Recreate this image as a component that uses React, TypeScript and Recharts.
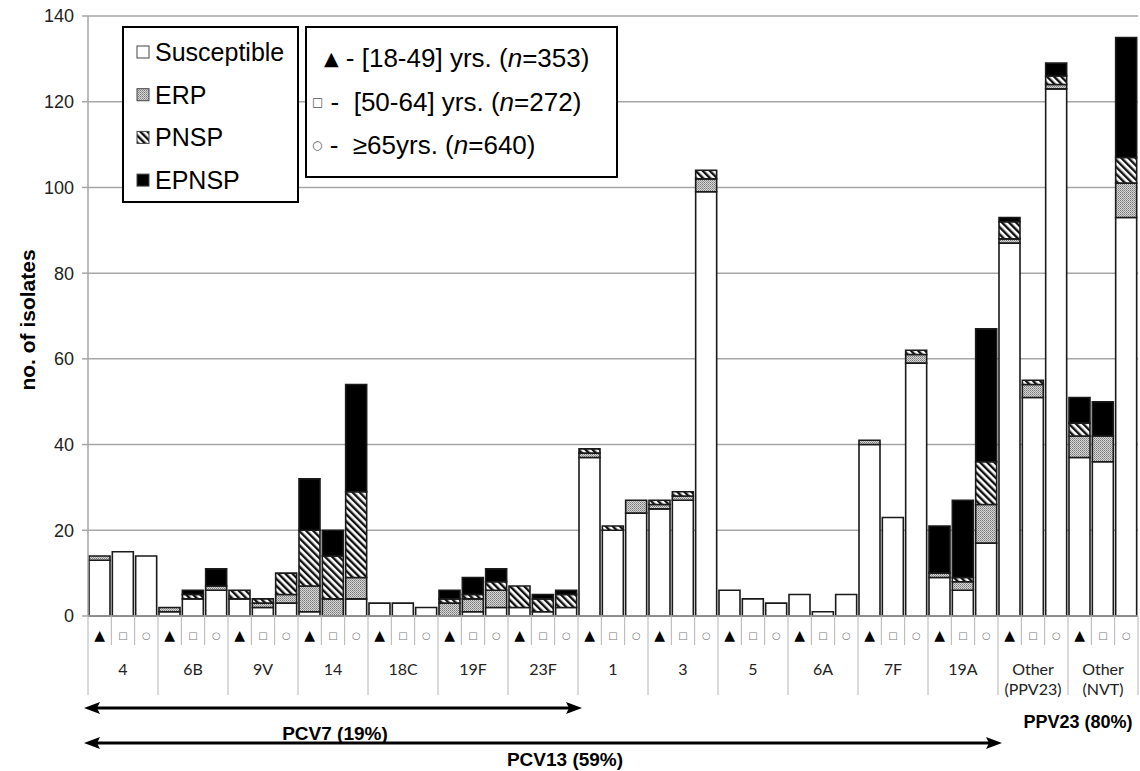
import { Bar, BarChart, CartesianGrid, XAxis, YAxis } from "recharts";

// serotype groups (3 age bars each); "|" splits a label over two lines
const groups = ["4", "6B", "9V", "14", "18C", "19F", "23F", "1", "3", "5", "6A", "7F", "19A", "Other|(PPV23)", "Other|(NVT)"];
const ageMarks = ["▲", "□", "○"];

// isolates per bar: [18-49], [50-64], >=65 for each group
const susceptible = [13, 15, 14, 1, 4, 6, 4, 2, 3, 1, 0, 4, 3, 3, 2, 0, 1, 2, 2, 1, 2, 37, 20, 24, 25, 27, 99, 6, 4, 3, 5, 1, 5, 40, 23, 59, 9, 6, 17, 87, 51, 123, 37, 36, 93];
const erp = [1, 0, 0, 1, 0, 1, 0, 1, 2, 6, 4, 5, 0, 0, 0, 3, 3, 4, 0, 0, 0, 1, 0, 3, 1, 1, 3, 0, 0, 0, 0, 0, 0, 1, 0, 2, 1, 2, 9, 1, 3, 1, 5, 6, 8];
const pnsp = [0, 0, 0, 0, 1, 0, 2, 1, 5, 13, 10, 20, 0, 0, 0, 1, 1, 2, 5, 3, 3, 1, 1, 0, 1, 1, 2, 0, 0, 0, 0, 0, 0, 0, 0, 1, 0, 1, 10, 4, 1, 2, 3, 0, 6];
const epnsp = [0, 0, 0, 0, 1, 4, 0, 0, 0, 12, 6, 25, 0, 0, 0, 2, 4, 3, 0, 1, 1, 0, 0, 0, 0, 0, 0, 0, 0, 0, 0, 0, 0, 0, 0, 0, 11, 18, 31, 1, 0, 3, 6, 8, 28];

const yTicks = [0, 20, 40, 60, 80, 100, 120, 140];
const resistanceLegend = ["Susceptible", "ERP", "PNSP", "EPNSP"];
const ageLegend = [
  { mark: "▲", text: " - [18-49] yrs. (", n: "=353)" },
  { mark: "□", text: " -  [50-64] yrs. (", n: "=272)" },
  { mark: "○", text: " -  ≥65yrs. (", n: "=640)" },
];
const vaccines = [
  { label: "PCV7 (19%)", groups: 7 },
  { label: "PCV13 (59%)", groups: 13 },
];

const rows = susceptible.map((s, i) => ({
  key: `b${i}`,
  susceptible: s,
  erp: erp[i],
  pnsp: pnsp[i],
  epnsp: epnsp[i],
}));

const W = 1140;
const H = 771;
const LEFT = 88;
const TOP = 16;
const BOTTOM = 616;
const PLOT_W = 1050;
const SLOT = PLOT_W / rows.length;
const FONT = "'Liberation Sans', Arial, sans-serif";
const GRID = "#a6a6a6";

function Patterns({ prefix }: { prefix: string }) {
  return (
    <defs>
      <pattern id={`${prefix}-dots`} width="2" height="2" patternUnits="userSpaceOnUse">
        <rect width="2" height="2" fill="#d6d6d6" />
        <rect width="1" height="1" fill="#7a7a7a" />
        <rect x="1" y="1" width="1" height="1" fill="#999" />
      </pattern>
      <pattern id={`${prefix}-hatch`} width="5" height="5" patternUnits="userSpaceOnUse" patternTransform="rotate(-45)">
        <rect width="5" height="5" fill="#fff" />
        <rect width="2.4" height="5" fill="#111" />
      </pattern>
    </defs>
  );
}

function AgeTick(props: any) {
  const { x, index, payload } = props;
  const half = payload?.offset || SLOT / 2;
  const ai = index % 3;
  const label = groups[Math.floor(index / 3)].split("|");
  const left = x - half;
  return (
    <g>
      <line x1={left} x2={left} y1={BOTTOM} y2={BOTTOM + (ai === 0 ? 79 : 29)} stroke="#b4b4b4" />
      {index === rows.length - 1 && (
        <line x1={x + half} x2={x + half} y1={BOTTOM} y2={BOTTOM + 79} stroke="#b4b4b4" />
      )}
      <text
        x={x}
        y={BOTTOM + 19}
        textAnchor="middle"
        dominantBaseline="central"
        fontFamily="'DejaVu Sans', sans-serif"
        fontSize={ai === 0 ? 14 : 10}
        fill={ai === 0 ? "#000" : "#777"}
      >
        {ageMarks[ai]}
      </text>
      {ai === 1 &&
        label.map((t, k) => (
          <text
            key={k}
            x={x}
            y={BOTTOM + 52 + k * 20}
            textAnchor="middle"
            dominantBaseline="central"
            fontFamily="Lato, 'Open Sans', sans-serif"
            fontSize={16}
            fill="#222"
          >
            {t}
          </text>
        ))}
    </g>
  );
}

function Overlay() {
  const fills = ["#fff", "url(#lg-dots)", "url(#lg-hatch)", "#000"];
  return (
    <svg width={W} height={H} style={{ position: "absolute", left: 0, top: 0, pointerEvents: "none" }}>
      <Patterns prefix="lg" />
      <text
        transform="translate(27,320) rotate(-90)"
        textAnchor="middle"
        dominantBaseline="central"
        fontFamily={FONT}
        fontWeight="bold"
        fontSize={21}
      >
        no. of isolates
      </text>

      <rect x={123} y={27} width={175} height={175} fill="#fff" stroke="#000" strokeWidth={2} />
      {resistanceLegend.map((name, i) => (
        <g key={name}>
          <rect x={137} y={46 + i * 42.7} width={12} height={12} fill={fills[i]} stroke="#444" />
          <text x={155} y={52 + i * 42.7} dominantBaseline="central" fontFamily={FONT} fontSize={25}>
            {name}
          </text>
        </g>
      ))}

      <rect x={306} y={27} width={311} height={150} fill="#fff" stroke="#000" strokeWidth={2} />
      {ageLegend.map((a, i) => (
        <text
          key={i}
          x={i === 0 ? 324 : 312}
          y={58 + i * 43.5}
          dominantBaseline="central"
          fontFamily={FONT}
          fontSize={26}
          style={{ whiteSpace: "pre" }}
        >
          <tspan fontFamily="'DejaVu Sans', sans-serif" fontSize={i === 0 ? 19 : 12} fill={i === 0 ? "#000" : "#555"}>
            {a.mark}
          </tspan>
          <tspan>{a.text}</tspan>
          <tspan fontStyle="italic">n</tspan>
          <tspan>{a.n}</tspan>
        </text>
      ))}

      {vaccines.map((v, i) => {
        const y = 708 + i * 35;
        const x1 = LEFT - 4;
        const x2 = LEFT + v.groups * 3 * SLOT + 4;
        return (
          <g key={v.label}>
            <line x1={x1 + 12} x2={x2 - 12} y1={y} y2={y} stroke="#000" strokeWidth={3} />
            <polygon points={`${x1},${y} ${x1 + 16},${y - 6} ${x1 + 13},${y} ${x1 + 16},${y + 6}`} fill="#000" />
            <polygon points={`${x2},${y} ${x2 - 16},${y - 6} ${x2 - 13},${y} ${x2 - 16},${y + 6}`} fill="#000" />
            <text
              x={i === 0 ? 335 : 565}
              y={y + (i === 0 ? 25 : 16)}
              textAnchor="middle"
              dominantBaseline="central"
              fontFamily={FONT}
              fontWeight="bold"
              fontSize={19}
            >
              {v.label}
            </text>
          </g>
        );
      })}
      <text x={1078} y={722} textAnchor="middle" dominantBaseline="central" fontFamily={FONT} fontWeight="bold" fontSize={18}>
        PPV23 (80%)
      </text>
    </svg>
  );
}

export default function App() {
  const barStroke = { stroke: "#1a1a1a", strokeWidth: 1.6 };
  return (
    <div style={{ position: "absolute", left: 0, top: 0, width: W, height: H, overflow: "hidden", background: "#fff" }}>
      <BarChart
        width={LEFT + PLOT_W + 12}
        height={H}
        data={rows}
        margin={{ top: TOP, right: 12, bottom: 0, left: 0 }}
        barCategoryGap={1}
      >
        <Patterns prefix="bar" />
        <CartesianGrid vertical={false} stroke={GRID} strokeWidth={1.5} />
        <XAxis
          dataKey="key"
          interval={0}
          height={H - BOTTOM}
          tickLine={false}
          axisLine={{ stroke: GRID, strokeWidth: 1.5 }}
          tick={<AgeTick />}
        />
        <YAxis
          width={LEFT}
          domain={[0, 140]}
          ticks={yTicks}
          interval={0}
          tickSize={6}
          tickMargin={8}
          axisLine={{ stroke: GRID, strokeWidth: 1.5 }}
          tickLine={{ stroke: GRID, strokeWidth: 1.5 }}
          tick={{ fontFamily: FONT, fontSize: 18, fill: "#222" }}
        />
        <Bar dataKey="susceptible" stackId="r" fill="#fff" {...barStroke} isAnimationActive={false} />
        <Bar dataKey="erp" stackId="r" fill="url(#bar-dots)" {...barStroke} isAnimationActive={false} />
        <Bar dataKey="pnsp" stackId="r" fill="url(#bar-hatch)" {...barStroke} isAnimationActive={false} />
        <Bar dataKey="epnsp" stackId="r" fill="#000" {...barStroke} isAnimationActive={false} />
      </BarChart>
      <Overlay />
    </div>
  );
}
